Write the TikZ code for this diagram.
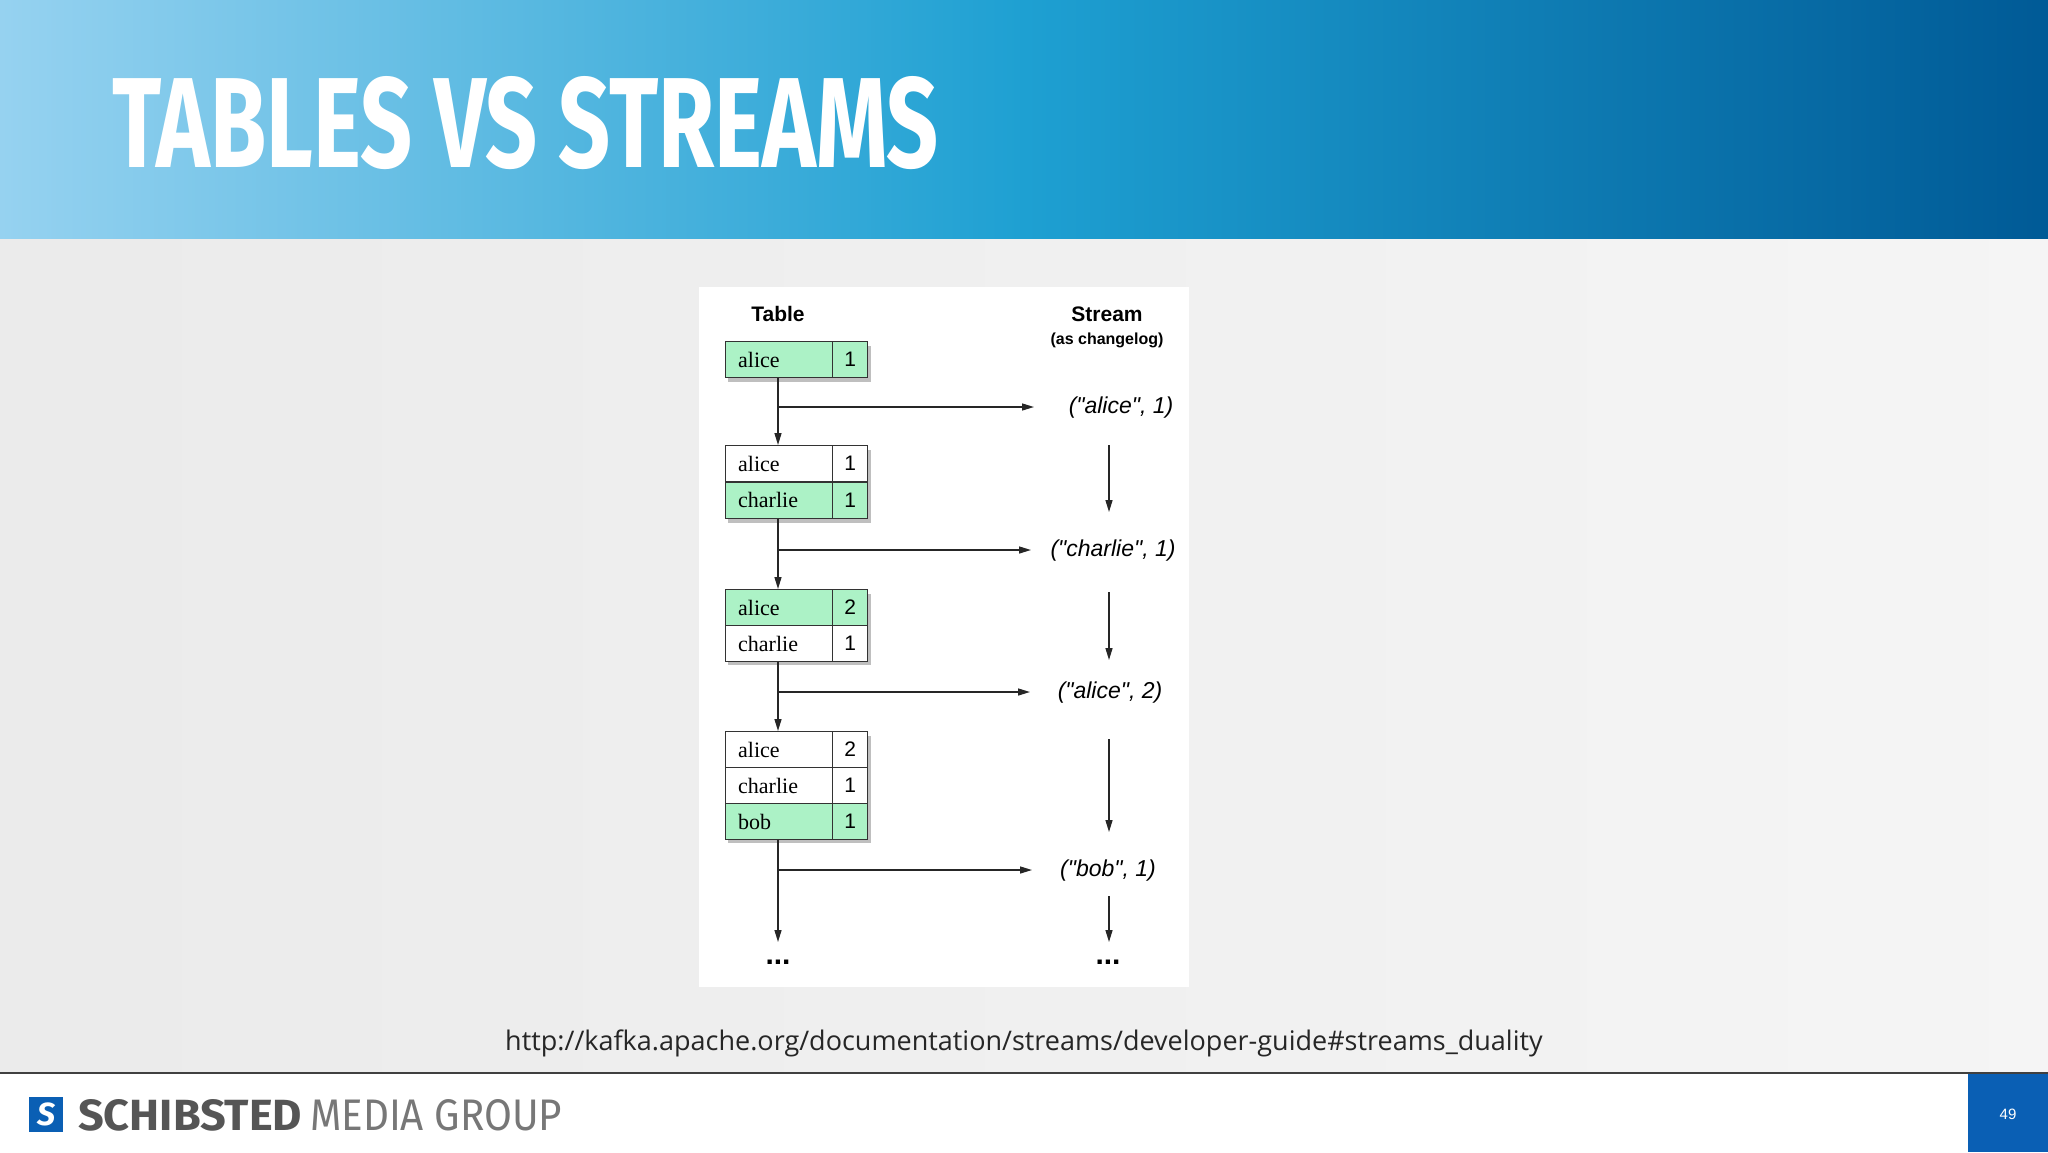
\documentclass[tikz,border=0pt]{standalone}
\usepackage{fontspec}
\setmainfont{Liberation Serif}
\setsansfont{Liberation Sans}
\newfontfamily\titlefont{Fira Sans}
\newfontfamily\urlfont{Open Sans}
\usetikzlibrary{arrows.meta}
\definecolor{hdrL}{RGB}{150,210,240}
\definecolor{hdrM}{RGB}{30,160,210}
\definecolor{hdrR}{RGB}{0,90,150}
\definecolor{rowgreen}{RGB}{172,242,198}
\definecolor{smgblue}{RGB}{10,95,180}
\definecolor{logogray}{RGB}{85,85,85}
\newcommand{\dq}{\textquotedbl}
\tikzset{
  cellname/.style={draw=black!80,line width=1.3pt,anchor=north west,minimum width=107pt,minimum height=36pt,inner sep=0pt,text width=82pt,align=left,font=\fontsize{22}{24}\selectfont},
  cellval/.style={draw=black!80,line width=1.3pt,anchor=north west,minimum width=35pt,minimum height=36pt,inner sep=0pt,align=center,font=\sffamily\fontsize{21}{24}\selectfont},
  shadowbox/.style={fill=black,opacity=0.25},
  conn/.style={line width=1.4pt,black!85},
  arr/.style={conn,-{Triangle[length=12pt,width=7pt]}},
  slabel/.style={font=\sffamily\itshape\fontsize{23}{26}\selectfont,inner sep=0pt},
  hdr/.style={font=\sffamily\bfseries\fontsize{21}{24}\selectfont,inner sep=0pt},
  dots/.style={font=\sffamily\bfseries\fontsize{30}{30}\selectfont,inner sep=0pt}
}
\begin{document}
\begin{tikzpicture}[x=1pt,y=-1pt]
\useasboundingbox (0,0) rectangle (2048,1152);
% background
\shade[left color=black!8,right color=black!4] (0,238) rectangle (2048,1073);
\shade[left color=hdrL,right color=hdrR,middle color=hdrM] (0,0) rectangle (2048,238);
\node[anchor=south west,inner sep=0pt,text=white] (title) at (112,170)
  {\resizebox{826pt}{91pt}{\titlefont\bfseries TABLES VS STREAMS}};
% panel
\fill[white] (699,287) rectangle (1189,987);
\node[hdr] (thead) at (778,314) {Table};
\node[hdr] (shead) at (1107,314) {Stream};
\node[font=\sffamily\bfseries\fontsize{16}{18}\selectfont,inner sep=0pt] (shead2) at (1107,340) {(as changelog)};
% shadows
\foreach \t/\b in {341/377,445/518,589/660,731/838}{
  \fill[shadowbox] (728,\t+5) rectangle (871,\b+5);
}
% box 1
\node[cellname,fill=rowgreen] (b1n1) at (725,341) {alice};
\node[cellval,fill=rowgreen] (b1v1) at (832,341) {1};
% box 2
\node[cellname,fill=white] (b2n1) at (725,445) {alice};
\node[cellval,fill=white] (b2v1) at (832,445) {1};
\node[cellname,fill=rowgreen] (b2n2) at (725,481.5) {charlie};
\node[cellval,fill=rowgreen] (b2v2) at (832,481.5) {1};
% box 3
\node[cellname,fill=rowgreen] (b3n1) at (725,589) {alice};
\node[cellval,fill=rowgreen] (b3v1) at (832,589) {2};
\node[cellname,fill=white] (b3n2) at (725,625) {charlie};
\node[cellval,fill=white] (b3v2) at (832,625) {1};
% box 4
\node[cellname,fill=white] (b4n1) at (725,731) {alice};
\node[cellval,fill=white] (b4v1) at (832,731) {2};
\node[cellname,fill=white] (b4n2) at (725,767) {charlie};
\node[cellval,fill=white] (b4v2) at (832,767) {1};
\node[cellname,fill=rowgreen] (b4n3) at (725,803) {bob};
\node[cellval,fill=rowgreen] (b4v3) at (832,803) {1};
% stream labels
\node[slabel] (s1) at (1121,408) {(\dq alice\dq, 1)};
\node[slabel] (s2) at (1113,551) {(\dq charlie\dq, 1)};
\node[slabel] (s3) at (1110,693) {(\dq alice\dq, 2)};
\node[slabel] (s4) at (1108,871) {(\dq bob\dq, 1)};
\node[dots] (td) at (778,962) {...};
\node[dots] (sd) at (1108,962) {...};
% coordinates
\coordinate (j1) at (778,407); \coordinate (e1) at (1034,407);
\coordinate (j2) at (778,550); \coordinate (e2) at (1031,550);
\coordinate (j3) at (778,692); \coordinate (e3) at (1030,692);
\coordinate (j4) at (778,870); \coordinate (e4) at (1032,870);
\coordinate (tend) at (778,942);
\coordinate (a1s) at (1109,445); \coordinate (a1e) at (1109,512);
\coordinate (a2s) at (1109,592); \coordinate (a2e) at (1109,660);
\coordinate (a3s) at (1109,739); \coordinate (a3e) at (1109,832);
\coordinate (a4s) at (1109,896); \coordinate (a4e) at (1109,942);
% table connectors
\draw[arr] (j1 |- b1n1.south) -- (j1 |- b2n1.north);
\draw[arr] (j2 |- b2n2.south) -- (j2 |- b3n1.north);
\draw[arr] (j3 |- b3n2.south) -- (j3 |- b4n1.north);
\draw[arr] (j4 |- b4n3.south) -- (tend);
\draw[arr] (j1) -- (e1);
\draw[arr] (j2) -- (e2);
\draw[arr] (j3) -- (e3);
\draw[arr] (j4) -- (e4);
% stream connectors
\draw[arr] (a1s) -- (a1e);
\draw[arr] (a2s) -- (a2e);
\draw[arr] (a3s) -- (a3e);
\draw[arr] (a4s) -- (a4e);
% url
\node[font=\urlfont\fontsize{27}{30}\selectfont,text=black!85,inner sep=0pt] (url) at (1024,1043)
  {http://kafka.apache.org/documentation/streams/developer-guide\#streams\_duality};
% footer
\fill[white] (0,1073) rectangle (2048,1152);
\draw[line width=2pt,black!75] (0,1073) -- (2048,1073);
\fill[smgblue] (1968,1074) rectangle (2048,1152);
\node[text=white,font=\sffamily\fontsize{15}{16}\selectfont] (page) at (2008,1114) {49};
\fill[smgblue] (29,1097) rectangle (63,1132);
\node[text=white,font=\titlefont\bfseries\itshape\fontsize{32}{32}\selectfont,inner sep=0pt] (logoS) at (46,1114) {S};
\node[anchor=south west,inner sep=0pt,text=logogray] (smg1) at (78,1131)
  {\resizebox{224pt}{31pt}{\titlefont\bfseries SCHIBSTED}};
\node[anchor=south west,inner sep=0pt,text=logogray!80] (smg2) at (310,1131)
  {\resizebox{252pt}{31pt}{\titlefont\fontseries{l}\selectfont MEDIA GROUP}};
\end{tikzpicture}
\end{document}
